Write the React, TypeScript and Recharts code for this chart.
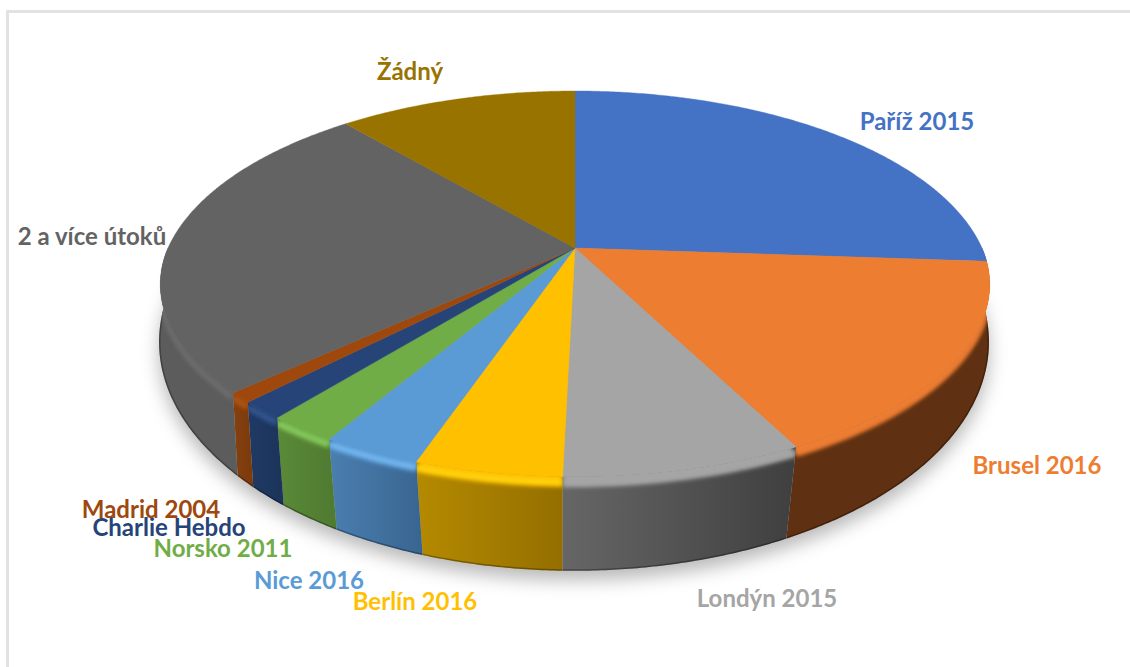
import { Pie, PieChart } from 'recharts';

const categories = ['Paříž 2015', 'Brusel 2016', 'Londýn 2015', 'Berlín 2016', 'Nice 2016', 'Norsko 2011', 'Charlie Hebdo', 'Madrid 2004', '2 a více útoků', 'Žádný'];
const shares = [26.1, 16.3, 8.0, 4.9, 3.3, 2.3, 1.5, 0.85, 25.45, 11.3];

const data = categories.map((name, i) => ({ name, value: shares[i] }));

const topColors = ['#4472C4', '#ED7D31', '#A5A5A5', '#FFC000', '#5B9BD5', '#70AD47', '#264478', '#9E480E', '#636363', '#997300'];
const edgeColors = ['#4472C4', '#ED7D31', '#A5A5A5', '#FFE01A', '#80C6FF', '#94DA6C', '#3A5F9A', '#B85A18', '#727272', '#997300'];
const wallLeft = ['#2A4679', '#5F3012', '#666666', '#B58A00', '#4A7FB0', '#5A8A38', '#1F3A66', '#85400F', '#5C5C5C', '#5C4500'];
const wallRight = ['#2A4679', '#5F3012', '#3F3F3F', '#946F00', '#396590', '#4F7A31', '#1C3459', '#7A3A0C', '#5C5C5C', '#5C4500'];

// label centre x, baseline y
const labelAt = [
  [917, 130], [1037, 474], [767, 607], [415, 610], [309, 589],
  [223, 557], [169, 536], [151, 518], [92, 245], [410, 80],
];

// perspective of the disc: k = tilt, depth axis is a * Y_SCALE
const K = 0.207;
const Y_SCALE = 0.4656;
const BOTTOM = { dx: -1, dy: 46.6, sx: 0.9975, sy: 1.156 };

type Pt = { x: number; y: number };

function disc(cx: number, cy: number, a: number, b: number, theta: number, r = 1): Pt {
  const t = (theta * Math.PI) / 180;
  const u = r * Math.sin(t);
  const v = -r * Math.cos(t);
  const w = 1 - K * v;
  return { x: cx + (a * u) / w, y: cy + (b * v) / w };
}

// flat face is slightly inset towards the viewer, the bevel fills the rest
const insetAt = (theta: number) => {
  const v = Math.max(0, -Math.cos((theta * Math.PI) / 180));
  return 1 - 0.035 * Math.pow(v, 1.5);
};

// the wall edges lean a little compared with the radial lines
const lean = (theta: number, amount: number) =>
  theta - amount * Math.sin((2 * (theta - 180) * Math.PI) / 180);

function angles(from: number, to: number) {
  const out: number[] = [];
  for (let a = from; a < to; a += 0.5) out.push(a);
  out.push(to);
  return out;
}

const line = (pts: Pt[]) => 'M' + pts.map((p) => `${p.x.toFixed(2)},${p.y.toFixed(2)}`).join('L');

function WallShape(props: any) {
  const { cx, cy, outerRadius: a, startAngle, endAngle, name } = props;
  const i = categories.indexOf(name);
  const from = Math.max(90 - startAngle, 90);
  const to = Math.min(90 - endAngle, 270);
  if (to <= from) return <g />;
  const b = a * Y_SCALE;
  const list = angles(from, to);
  const face = (t: number) => disc(cx, cy, a, b, t, insetAt(t));
  const rim = (t: number) => disc(cx, cy, a, b, lean(t, 1.2));
  const low = (t: number) =>
    disc(cx + BOTTOM.dx, cy + BOTTOM.dy, a * BOTTOM.sx, b * BOTTOM.sy, lean(t, 2.7));
  const bottomLine = list.map(low);
  const wall = line([...list.map(face), ...[...bottomLine].reverse()]) + 'Z';
  // band starts well inside the face so its blur only softens the lower edge
  const inner = (t: number) => disc(cx, cy, a, b, t, insetAt(t) - 0.04);
  const band = line([...list.map(inner), ...[...list].reverse().map(rim)]) + 'Z';
  const glow = list.map((t) => {
    const f = face(t);
    const g = rim(t);
    return { x: f.x + (g.x - f.x) * 0.55, y: f.y + (g.y - f.y) * 0.55 };
  });
  return (
    <g>
      <defs>
        <linearGradient id={`wall-${i}`} x1="0" x2="1" y1="0" y2="0">
          <stop offset="0" stopColor={wallLeft[i]} />
          <stop offset="1" stopColor={wallRight[i]} />
        </linearGradient>
        <clipPath id={`clip-${i}`}>
          <path d={wall} />
        </clipPath>
      </defs>
      <path d={wall} fill={`url(#wall-${i})`} />
      <g clipPath={`url(#clip-${i})`}>
        <path d={line(bottomLine)} fill="none" stroke="#000" strokeOpacity={0.3} strokeWidth={3} />
        <path d={band} fill={topColors[i]} filter="url(#bevel)" />
        <path d={line(glow)} fill="none" stroke={edgeColors[i]} strokeWidth={3} filter="url(#bevel)" />
      </g>
    </g>
  );
}

function TopShape(props: any) {
  const { cx, cy, outerRadius: a, startAngle, endAngle, name } = props;
  const i = categories.indexOf(name);
  const b = a * Y_SCALE;
  const list = angles(90 - startAngle, 90 - endAngle);
  const pts = [{ x: cx, y: cy }, ...list.map((t) => disc(cx, cy, a, b, t, insetAt(t)))];
  return <path d={line(pts) + 'Z'} fill={topColors[i]} stroke={topColors[i]} strokeWidth={0.4} />;
}

function renderLabel(props: any) {
  const i = categories.indexOf(props.name);
  return (
    <text
      x={labelAt[i][0]}
      y={labelAt[i][1]}
      textAnchor="middle"
      fill={topColors[i]}
      fontFamily="Lato, sans-serif"
      fontWeight={700}
      fontSize={24}
    >
      {props.name}
    </text>
  );
}

export default function App() {
  return (
    <div style={{ position: 'absolute', left: 0, top: 0, width: 1130, height: 667, background: '#fff', overflow: 'hidden' }}>
      <div style={{ position: 'absolute', left: 6, top: 10, width: 1130, height: 3, background: '#e2e2e2' }} />
      <div style={{ position: 'absolute', left: 6, top: 10, width: 3, height: 660, background: '#e2e2e2' }} />
      <div style={{ position: 'absolute', left: 0, top: 0 }}>
        <PieChart width={1130} height={667} margin={{ top: 0, right: 0, bottom: 0, left: 0 }}>
          <defs>
            <filter id="soft" x="-10%" y="-10%" width="120%" height="120%">
              <feGaussianBlur stdDeviation="9" />
            </filter>
            <filter id="bevel" filterUnits="userSpaceOnUse" x="0" y="0" width="1130" height="667">
              <feGaussianBlur stdDeviation="2.2" />
            </filter>
          </defs>
          <ellipse cx={574} cy={352} rx={415} ry={228} fill="#000" fillOpacity={0.28} filter="url(#soft)" />
          <Pie
            data={data}
            dataKey="value"
            nameKey="name"
            cx={575}
            cy={248}
            outerRadius={407}
            startAngle={90}
            endAngle={-270}
            shape={WallShape}
            isAnimationActive={false}
          />
          <Pie
            data={data}
            dataKey="value"
            nameKey="name"
            cx={575}
            cy={248}
            outerRadius={407}
            startAngle={90}
            endAngle={-270}
            shape={TopShape}
            label={renderLabel}
            labelLine={false}
            isAnimationActive={false}
          />
        </PieChart>
      </div>
    </div>
  );
}
